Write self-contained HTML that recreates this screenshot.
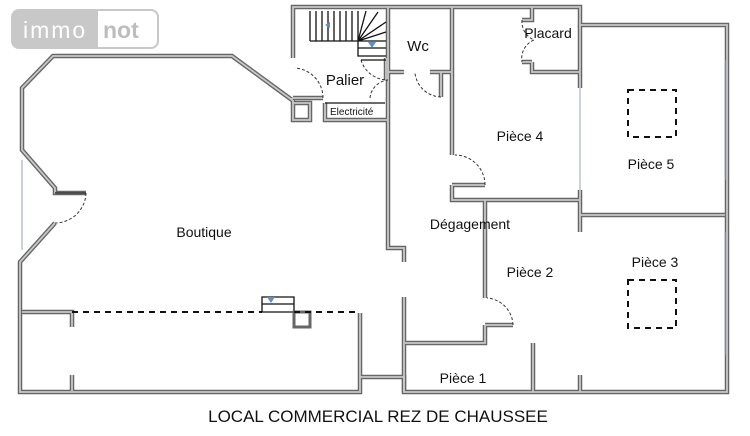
<!DOCTYPE html>
<html><head><meta charset="utf-8"><style>
html,body{margin:0;padding:0;background:#fff;width:750px;height:436px;overflow:hidden}
svg{display:block}
text{font-family:"Liberation Sans",sans-serif;fill:#111}
</style></head><body>
<svg width="750" height="436" viewBox="0 0 750 436" xmlns="http://www.w3.org/2000/svg">
<!-- logo -->
<rect x="12" y="10" width="146" height="38" rx="7" fill="#fff" stroke="#c8c8c8" stroke-width="2"/>
<path d="M19 10 H98 V48 H19 A7 7 0 0 1 12 41 V17 A7 7 0 0 1 19 10Z" fill="#c8c8c8"/>
<text x="23" y="38" font-size="23" style="fill:#fff;letter-spacing:2px">immo</text>
<text x="103" y="38" font-size="23" font-weight="bold" style="fill:#bdbdbd">not</text>

<defs>
<g id="w" fill="none" stroke-linejoin="miter">
<path d="M86 193 H55 V188 L22 150 V88 L53 56 H232 L292 100 V98"/>
<path d="M55 223 L20 262 V392 H360 V313"/>
<path d="M22 312 H72 V327 M72 375 V392"/>
<path d="M360 377 H404 V392 H727 V25 H580 V7 H293 V58"/>
<path d="M293 98 H323"/>
<path d="M293 100 V120 H310 V103 H293"/>
<path d="M325 103 V120 H388"/>
<path d="M388 7 V248 H404 V262"/>
<path d="M404 297 V392"/>
<path d="M388 72 H404 M430 72 H452 M441 72 V97"/>
<path d="M452 7 V155 M452 185 V200 H580"/>
<path d="M532 7 V20 H522 M532 62 V72 H580 M522 62 H532"/>
<path d="M580 25 V88 M580 190 V215 H725 M580 215 V232 M580 375 V392"/>
<path d="M452 185 H485 M485 200 V298 M485 325 H513 M485 325 V343 H405 M533 343 V392"/>
<path d="M386 58 V80"/>
</g>
</defs>
<use href="#w" stroke="#666" stroke-width="4.5"/>
<use href="#w" stroke="#c8c8c8" stroke-width="1.8"/>

<!-- windows -->
<g stroke="#9aa0c8" stroke-width="1" fill="none">
<path d="M725 60 V180 M725 232 V355 M580 88 V190 M22 160 V250"/>
</g>
<!-- doors arcs -->
<g stroke="#333" stroke-width="1" stroke-dasharray="3,2" fill="none">
<path d="M86 193 A31 31 0 0 1 55 223"/>
<path d="M323 98 A30 30 0 0 0 295 68"/>
<path d="M370 98 A20 20 0 0 1 388 80"/>
<path d="M361 60 A28 28 0 0 0 388 80"/>
<path d="M441 97 A27 27 0 0 1 415 73"/>
<path d="M485 185 A30 30 0 0 0 455 155"/>
<path d="M513 325 A28 28 0 0 0 487 298"/>
<path d="M522 20 A20 20 0 0 0 534 40 A20 20 0 0 0 522 62"/>
</g>
<!-- stairs -->
<g stroke="#111" stroke-width="1.3" fill="none">
<path d="M310 11 V41 M316 11 V41 M322 11 V41 M328 11 V41 M334 11 V41 M340 11 V41 M346 11 V41 M352 11 V41 M358 11 V41"/>
<path d="M310 41 H386 M358 41 L366 11 M358 41 L378 12 M358 41 L386 22 M358 41 L386 32 M358 41 V56 H386 M358 48 H386 M361 60 H386"/>
<path d="M325 103 H385"/>
<path d="M262 297 H294 V312 H262 Z M262 304 H294"/>
<path d="M55 193 H86"/>
</g>
<path d="M325 25 l5 -3 v6z M368 42 h8 l-4 6z M267 297 h8 l-4 6z" fill="#5b8fd0"/>
<rect x="294" y="312" width="16" height="15" fill="none" stroke="#666" stroke-width="3"/>
<!-- dashed -->
<g stroke="#111" stroke-width="2" stroke-dasharray="6,5" fill="none">
<path d="M72 312 H262 M294 312 H358"/>
<rect x="628" y="90" width="48" height="47"/>
<rect x="628" y="280" width="48" height="48"/>
</g>
<!-- labels -->
<text x="345" y="85" font-size="15" text-anchor="middle">Palier</text>
<text x="330" y="115" font-size="10">Electricité</text>
<text x="418" y="51" font-size="15" text-anchor="middle">Wc</text>
<text x="548" y="38" font-size="14" text-anchor="middle">Placard</text>
<text x="520" y="141" font-size="14" text-anchor="middle">Pièce 4</text>
<text x="651" y="169" font-size="14" text-anchor="middle">Pièce 5</text>
<text x="204" y="237" font-size="14" text-anchor="middle">Boutique</text>
<text x="470" y="229" font-size="14" text-anchor="middle">Dégagement</text>
<text x="530" y="277" font-size="14" text-anchor="middle">Pièce 2</text>
<text x="655" y="267" font-size="14" text-anchor="middle">Pièce 3</text>
<text x="463" y="383" font-size="14" text-anchor="middle">Pièce 1</text>
<text x="378" y="422" font-size="17" text-anchor="middle">LOCAL COMMERCIAL REZ DE CHAUSSEE</text>
</svg>
</body></html>
